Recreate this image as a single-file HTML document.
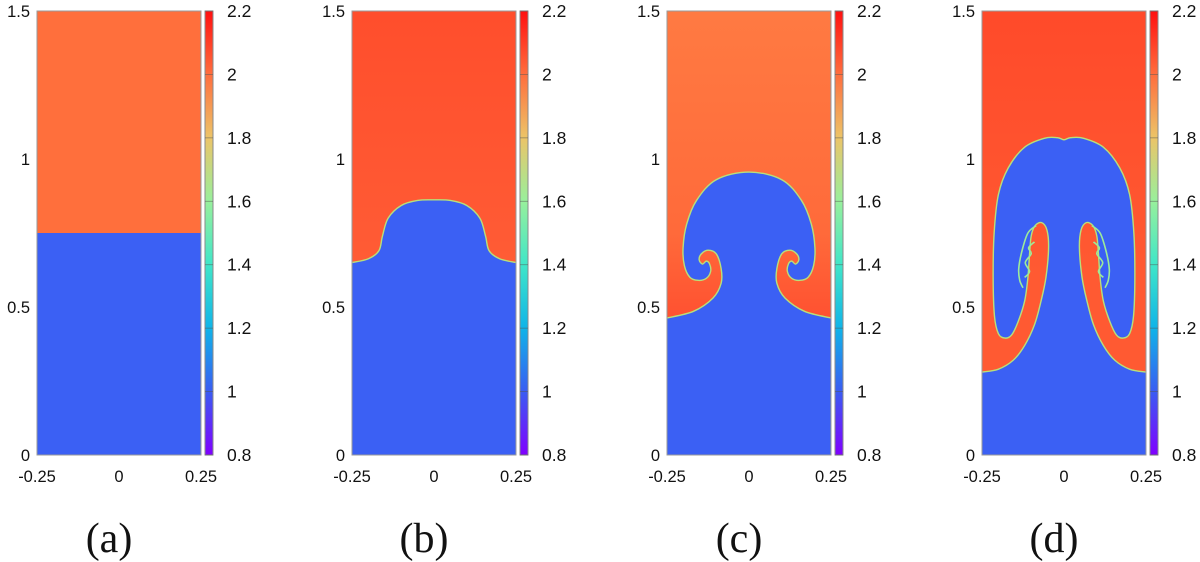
<!DOCTYPE html>
<html><head><meta charset="utf-8">
<style>
html,body{margin:0;padding:0;background:#fff;}
svg{display:block;}
.sans{font-family:"Liberation Sans","DejaVu Sans",sans-serif;}
.serif{font-family:"Liberation Serif","DejaVu Serif",serif;}
</style></head>
<body>
<svg id="fig" width="1200" height="562" viewBox="0 0 1200 562" xmlns="http://www.w3.org/2000/svg">
<defs>
<linearGradient id="cbar" x1="0" y1="1" x2="0" y2="0">
<stop offset="0" stop-color="#8000FF"/>
<stop offset="0.1429" stop-color="#3A5CF2"/>
<stop offset="0.2857" stop-color="#10B4E8"/>
<stop offset="0.4286" stop-color="#40E6C8"/>
<stop offset="0.5714" stop-color="#98F09C"/>
<stop offset="0.7143" stop-color="#ECC468"/>
<stop offset="0.8571" stop-color="#FF6E3E"/>
<stop offset="1" stop-color="#FF1010"/>
</linearGradient>
<linearGradient id="bgA" x1="0" y1="0" x2="0" y2="1"><stop offset="0" stop-color="#FF6F3C"/><stop offset="1" stop-color="#FF6F3C"/></linearGradient>
<linearGradient id="bgB" x1="0" y1="0" x2="0" y2="1"><stop offset="0" stop-color="#FF4E2C"/><stop offset="0.5" stop-color="#FF5A34"/><stop offset="1" stop-color="#FF6A3A"/></linearGradient>
<linearGradient id="bgC" x1="0" y1="0" x2="0" y2="1"><stop offset="0" stop-color="#FF7A42"/><stop offset="0.5" stop-color="#FF6A3A"/><stop offset="0.7" stop-color="#FF5030"/><stop offset="1" stop-color="#FF5030"/></linearGradient>
<linearGradient id="bgD" x1="0" y1="0" x2="0" y2="1"><stop offset="0" stop-color="#FF4A2A"/><stop offset="0.6" stop-color="#FF5A32"/><stop offset="1" stop-color="#FF5A32"/></linearGradient>
</defs>
</svg>
<script>
const panelLabels = ["(a)","(b)","(c)","(d)"];
const xTicks = [-0.25, 0, 0.25];
const xTickLabels = ["-0.25","0","0.25"];
const yTicks = [0, 0.5, 1, 1.5];
const yTickLabels = ["0","0.5","1","1.5"];
const cbTicks = [0.8,1,1.2,1.4,1.6,1.8,2,2.2];
const cbTickLabels = ["0.8","1","1.2","1.4","1.6","1.8","2","2.2"];
const ifaceA = [[-0.25,0.75],[0,0.75]];
const ifaceB = [[-0.25,0.65],[-0.2,0.663],[-0.168,0.69],[-0.157,0.74],[-0.14,0.8],[-0.1,0.843],[-0.05,0.86],[0,0.862]];
const ifaceC = [[-0.25,0.463],[-0.17,0.485],[-0.11,0.53],[-0.085,0.58],[-0.085,0.63],[-0.1,0.68],[-0.125,0.692],[-0.145,0.68],[-0.152,0.66],[-0.142,0.645],[-0.13,0.655],[-0.12,0.645],[-0.117,0.62],[-0.13,0.597],[-0.155,0.59],[-0.18,0.6],[-0.197,0.64],[-0.201,0.7],[-0.19,0.78],[-0.16,0.86],[-0.1,0.93],[0,0.956]];
const ifaceD = [[-0.25,0.28],[-0.2,0.29],[-0.155,0.32],[-0.12,0.37],[-0.09,0.44],[-0.07,0.52],[-0.055,0.6],[-0.047,0.7],[-0.052,0.76],[-0.068,0.785],[-0.088,0.775],[-0.1,0.74],[-0.105,0.68],[-0.11,0.6],[-0.12,0.52],[-0.14,0.45],[-0.16,0.405],[-0.18,0.395],[-0.2,0.41],[-0.212,0.47],[-0.216,0.6],[-0.213,0.75],[-0.2,0.88],[-0.17,0.97],[-0.12,1.04],[-0.06,1.07],[-0.02,1.072],[0,1.065]];
const envD = [[-0.085,0.775],[-0.11,0.75],[-0.128,0.69],[-0.138,0.63],[-0.135,0.59],[-0.125,0.565]];
const swirlD = [[-0.09,0.72],[-0.108,0.7],[-0.1,0.68],[-0.118,0.65],[-0.105,0.62],[-0.12,0.6]];
const ifaces = [ifaceA, ifaceB, ifaceC, ifaceD];
const bgs = ["url(#bgA)","url(#bgB)","url(#bgC)","url(#bgD)"];

const NS="http://www.w3.org/2000/svg";
const svg=document.getElementById('fig');
const X0=37, STEP=315, PW=164, PT=11, PB=455;
function mk(tag,attrs,parent){const e=document.createElementNS(NS,tag);for(const k in attrs)e.setAttribute(k,attrs[k]);(parent||svg).appendChild(e);return e;}
function smooth(pts){
  let d="M"+pts[0][0].toFixed(2)+","+pts[0][1].toFixed(2);
  for(let i=0;i<pts.length-1;i++){
    const p0=pts[Math.max(0,i-1)],p1=pts[i],p2=pts[i+1],p3=pts[Math.min(pts.length-1,i+2)];
    const c1=[p1[0]+(p2[0]-p0[0])/6,p1[1]+(p2[1]-p0[1])/6];
    const c2=[p2[0]-(p3[0]-p1[0])/6,p2[1]-(p3[1]-p1[1])/6];
    d+=" C"+c1[0].toFixed(2)+","+c1[1].toFixed(2)+" "+c2[0].toFixed(2)+","+c2[1].toFixed(2)+" "+p2[0].toFixed(2)+","+p2[1].toFixed(2);
  }
  return d;
}
for(let p=0;p<4;p++){
  const x0=X0+p*STEP;
  const sx=v=>x0+(v+0.25)/0.5*PW;
  const sy=v=>PB-v/1.5*(PB-PT);
  const g=mk('g',{});
  
  
  const bg=mk('rect',{x:x0,y:PT,width:PW,height:PB-PT,fill:bgs[p]},g);
  
  
  const left=ifaces[p];
  const right=left.slice(0,-1).reverse().map(q=>[-q[0],q[1]]);
  const full=left.concat(right).map(q=>[sx(q[0]),sy(q[1])]);
  const d=smooth(full);
  const blue=mk('path',{d:d+" L"+sx(0.25)+","+sy(0)+" L"+sx(-0.25)+","+sy(0)+" Z",fill:"#3B60F4"},g);
  
  
  if(p>0){
    const line=mk('path',{d:d,fill:"none",stroke:"#B8E07A","stroke-width":1.4},g);
    
    
  }
  if(p===3){
    [envD,swirlD].forEach(arr=>{
      [1,-1].forEach(s=>{
        const e=mk('path',{d:smooth(arr.map(q=>[sx(s*q[0]),sy(q[1])])),fill:"none",stroke:"#9CEB9A","stroke-width":1.6},g);
        
        
      });
    });
  }
  const frame=mk('rect',{x:x0,y:PT,width:PW,height:PB-PT,fill:"none",stroke:"#9a9a9a","stroke-width":1},g);
  
  
  yTicks.forEach((v,i)=>{
    const t=mk('text',{x:x0-7,y:sy(v)+6,"text-anchor":"end","font-size":16.5,fill:"#111","class":"sans"},g);
    t.textContent=yTickLabels[i];
    
    
  });
  xTicks.forEach((v,i)=>{
    const t=mk('text',{x:sx(v),y:482,"text-anchor":"middle","font-size":16.5,fill:"#111","class":"sans"},g);
    t.textContent=xTickLabels[i];
    
    
  });
  const cx=x0+PW+4, cw=8;
  const cy=v=>PB-(v-0.8)/1.4*(PB-PT);
  const cb=mk('rect',{x:cx,y:PT,width:cw,height:PB-PT,fill:"url(#cbar)",stroke:"#8a8a8a","stroke-width":1},g);
  
  
  cbTicks.forEach((v,i)=>{
    const tk=mk('line',{x1:cx,x2:cx+cw,y1:cy(v),y2:cy(v),stroke:"#555","stroke-width":0.8,"stroke-opacity":0.6},g);
    
    
    const t=mk('text',{x:cx+cw+14,y:cy(v)+6,"font-size":17.5,fill:"#111","class":"sans"},g);
    t.textContent=cbTickLabels[i];
    
    
  });
  const lab=mk('text',{x:x0+PW/2-10,y:552,"text-anchor":"middle","font-size":42,fill:"#111","class":"serif"},g);
  lab.textContent=panelLabels[p];
  
  
}
</script>
</body></html>
